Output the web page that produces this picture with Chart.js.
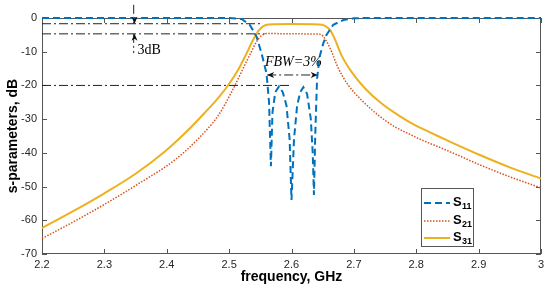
<!DOCTYPE html>
<html>
<head>
<meta charset="utf-8">
<script src="https://cdn.jsdelivr.net/npm/chart.js@4/dist/chart.umd.min.js"></script>
<style>
  html, body { margin: 0; padding: 0; background: #fff; }
</style>
</head>
<body>
<canvas id="chart" width="550" height="292"></canvas>
<script>
// values
const freqS11 = [2.20, 2.50, 2.52, 2.533, 2.544, 2.552, 2.560, 2.564, 2.567, 2.5695, 2.574, 2.580, 2.586, 2.592, 2.597, 2.600,
  2.604, 2.609, 2.614, 2.619, 2.625, 2.631, 2.634, 2.636, 2.638, 2.641, 2.645, 2.651, 2.656, 2.667, 2.683, 2.70, 2.72, 3.00];
const s11 = [0, 0, -0.3, -2, -5.5, -10.5, -16.5, -25, -44, -28, -22, -20.3, -22, -26, -36, -54,
  -36, -26, -22, -20.5, -22.5, -30, -40, -52.5, -35, -18, -11.5, -7.5, -5, -2, -0.6, -0.1, 0, 0];

const freqS21 = [2.20, 2.25, 2.30, 2.35, 2.413, 2.451, 2.483, 2.504, 2.520, 2.533, 2.544, 2.552, 2.563, 2.60, 2.645,
  2.651, 2.662, 2.675, 2.691, 2.712, 2.739, 2.766, 2.792, 2.809, 2.838, 2.867, 2.90, 2.95, 3.00];
const s21 = [-65.4, -60.5, -55.3, -49.7, -42.1, -35.7, -28.8, -21.9, -15.9, -11.0, -7.0, -5.2, -4.6, -4.7, -4.8,
  -5.5, -9.0, -14.9, -19.9, -24.3, -28.8, -32.3, -34.7, -36.2, -38.4, -40.7, -43.4, -47.1, -50.4];

const freqS31 = [2.20, 2.25, 2.30, 2.35, 2.397, 2.429, 2.461, 2.483, 2.499, 2.515, 2.528, 2.539, 2.547, 2.555, 2.563, 2.60,
  2.645, 2.652, 2.662, 2.670, 2.680, 2.696, 2.718, 2.744, 2.771, 2.798, 2.814, 2.838, 2.867, 2.90, 2.95, 3.00];
const s31 = [-62.3, -57.3, -52.0, -46.2, -39.6, -34.2, -28.1, -23.6, -19.8, -15.2, -10.5, -6.3, -3.8, -2.4, -1.9, -1.8,
  -1.9, -2.2, -3.6, -6.5, -11.0, -15.9, -20.9, -25.3, -28.8, -31.8, -33.2, -35.3, -37.8, -40.5, -44.3, -47.6];

const xTicks = [2.2, 2.3, 2.4, 2.5, 2.6, 2.7, 2.8, 2.9, 3.0];
const yTicks = [0, -10, -20, -30, -40, -50, -60, -70];

// annotation levels and spans
const level31 = -1.7;
const level21 = -4.7;
const levelRL = -20;
const arrowFreq = 2.347;
const fbwStart = 2.561, fbwEnd = 2.642, fbwLevel = -16.9;

const legendNames = [['S', '11'], ['S', '21'], ['S', '31']];

const blue = '#0072BD', red = '#D95319', gold = '#EDB120';
const dashDot = [9, 3, 2, 3];

function pts(xs, ys) {
  return xs.map((x, i) => ({ x: x, y: ys[i] }));
}
function guide(x0, x1, y0, y1) {
  return {
    data: [{ x: x0, y: y0 }, { x: x1, y: y1 }],
    borderColor: '#222', borderWidth: 1, borderDash: dashDot,
    pointRadius: 0, fill: false
  };
}

function arrowHead(ctx, x, y, dir) {
  const L = 7, W = 3;
  ctx.beginPath();
  ctx.moveTo(x, y);
  if (dir === 'down') { ctx.lineTo(x - W, y - L); ctx.lineTo(x, y - L + 2); ctx.lineTo(x + W, y - L); }
  if (dir === 'up') { ctx.lineTo(x - W, y + L); ctx.lineTo(x, y + L - 2); ctx.lineTo(x + W, y + L); }
  if (dir === 'left') { ctx.lineTo(x + L, y - W); ctx.lineTo(x + L - 2, y); ctx.lineTo(x + L, y + W); }
  if (dir === 'right') { ctx.lineTo(x - L, y - W); ctx.lineTo(x - L + 2, y); ctx.lineTo(x - L, y + W); }
  ctx.closePath();
  ctx.fill();
}

const frame = {
  id: 'frame',
  beforeDatasetsDraw(chart) {
    const { ctx, chartArea: a, scales: { x, y } } = chart;
    ctx.save();
    ctx.strokeStyle = '#555';
    ctx.lineWidth = 1;
    ctx.strokeRect(a.left + 0.5, a.top + 0.5, a.right - a.left - 1, a.bottom - a.top - 1);
    ctx.beginPath();
    xTicks.forEach(v => {
      const px = Math.round(x.getPixelForValue(v)) + 0.5;
      ctx.moveTo(px, a.bottom); ctx.lineTo(px, a.bottom - 5);
      ctx.moveTo(px, a.top); ctx.lineTo(px, a.top + 5);
    });
    yTicks.forEach(v => {
      const py = Math.round(y.getPixelForValue(v)) + 0.5;
      ctx.moveTo(a.left, py); ctx.lineTo(a.left + 5, py);
      ctx.moveTo(a.right, py); ctx.lineTo(a.right - 5, py);
    });
    ctx.stroke();
    ctx.restore();
  },
  afterDatasetsDraw(chart) {
    const { ctx, scales: { x, y } } = chart;
    ctx.save();
    ctx.fillStyle = '#111';
    // 3dB arrows
    const ax = Math.round(x.getPixelForValue(arrowFreq)) + 0.5;
    arrowHead(ctx, ax, y.getPixelForValue(level31), 'down');
    arrowHead(ctx, ax, y.getPixelForValue(level21), 'up');
    // FBW arrows
    const fy = y.getPixelForValue(fbwLevel);
    arrowHead(ctx, x.getPixelForValue(fbwStart), fy, 'left');
    arrowHead(ctx, x.getPixelForValue(fbwEnd), fy, 'right');

    ctx.fillStyle = '#000';
    ctx.textBaseline = 'middle';
    ctx.font = '14px "Liberation Serif", "Times New Roman", serif';
    ctx.textAlign = 'left';
    ctx.fillText('3dB', ax + 3, 50);
    ctx.font = 'italic 14px "Liberation Serif", "Times New Roman", serif';
    ctx.textAlign = 'center';
    ctx.fillText('FBW=3%', (x.getPixelForValue(fbwStart) + x.getPixelForValue(fbwEnd)) / 2 + 1, 62);

    // legend box
    const lx = 421.5, ly = 188.5, lw = 52, lh = 58;
    ctx.fillStyle = '#fff';
    ctx.fillRect(lx, ly, lw, lh);
    ctx.strokeStyle = '#555';
    ctx.lineWidth = 1;
    ctx.strokeRect(lx, ly, lw, lh);
    const styles = [
      { c: blue, w: 2, d: [7, 4] },
      { c: red, w: 1.5, d: [1.5, 1.5] },
      { c: gold, w: 2, d: [] }
    ];
    const rows = [203, 221, 238];
    styles.forEach((s, i) => {
      ctx.beginPath();
      ctx.strokeStyle = s.c; ctx.lineWidth = s.w; ctx.setLineDash(s.d);
      ctx.moveTo(424, rows[i]); ctx.lineTo(450, rows[i]);
      ctx.stroke();
      ctx.setLineDash([]);
      ctx.fillStyle = '#000';
      ctx.textAlign = 'left';
      ctx.font = 'bold 13px "Liberation Sans", Arial, sans-serif';
      ctx.fillText(legendNames[i][0], 453, rows[i] - 1);
      ctx.font = 'bold 9px "Liberation Sans", Arial, sans-serif';
      ctx.fillText(legendNames[i][1], 462, rows[i] + 4);
    });
    ctx.restore();
  }
};

new Chart(document.getElementById('chart'), {
  type: 'line',
  data: {
    datasets: [
      { label: 'S11', data: pts(freqS11, s11), borderColor: blue, borderWidth: 2, borderDash: [7, 4], pointRadius: 0, tension: 0 },
      { label: 'S21', data: pts(freqS21, s21), borderColor: red, borderWidth: 1.5, borderDash: [1.5, 1.5], pointRadius: 0, cubicInterpolationMode: 'monotone' },
      { label: 'S31', data: pts(freqS31, s31), borderColor: gold, borderWidth: 2, pointRadius: 0, cubicInterpolationMode: 'monotone' },
      guide(2.2, 2.553, level31, level31),
      guide(2.2, 2.557, level21, level21),
      guide(2.2, 2.600, levelRL, levelRL),
      guide(arrowFreq, arrowFreq, 3.9, level31),
      guide(arrowFreq, arrowFreq, level21, -10.4),
      guide(fbwStart, fbwEnd, fbwLevel, fbwLevel)
    ]
  },
  options: {
    responsive: false,
    animation: false,
    devicePixelRatio: 1,
    clip: false,
    layout: { padding: { top: 18, right: 9, left: 0, bottom: 0 } },
    plugins: { legend: { display: false }, tooltip: { enabled: false } },
    scales: {
      x: {
        type: 'linear', min: 2.2, max: 3.0,
        afterFit: s => { s.height = 38; },
        afterBuildTicks: s => { s.ticks = xTicks.map(v => ({ value: v })); },
        grid: { display: false, drawTicks: false },
        border: { display: false },
        ticks: {
          padding: 4, color: '#262626',
          font: { family: '"Liberation Sans", Arial, sans-serif', size: 11 },
          callback: v => String(Number(v.toFixed(1)))
        },
        title: {
          display: true, text: 'frequency, GHz', color: '#000',
          font: { family: '"Liberation Sans", Arial, sans-serif', size: 14, weight: 'bold' },
          padding: { top: 0, bottom: 6 }
        }
      },
      y: {
        min: -70, max: 0,
        afterFit: s => { s.width = 42; },
        afterBuildTicks: s => { s.ticks = yTicks.map(v => ({ value: v })); },
        grid: { display: false, drawTicks: false },
        border: { display: false },
        ticks: {
          padding: 5, color: '#262626',
          font: { family: '"Liberation Sans", Arial, sans-serif', size: 11 }
        },
        title: {
          display: true, text: 's-parameters, dB', color: '#000',
          font: { family: '"Liberation Sans", Arial, sans-serif', size: 14, weight: 'bold' },
          padding: { top: 4.6, bottom: 0 }
        }
      }
    }
  },
  plugins: [frame]
});
</script>
</body>
</html>
